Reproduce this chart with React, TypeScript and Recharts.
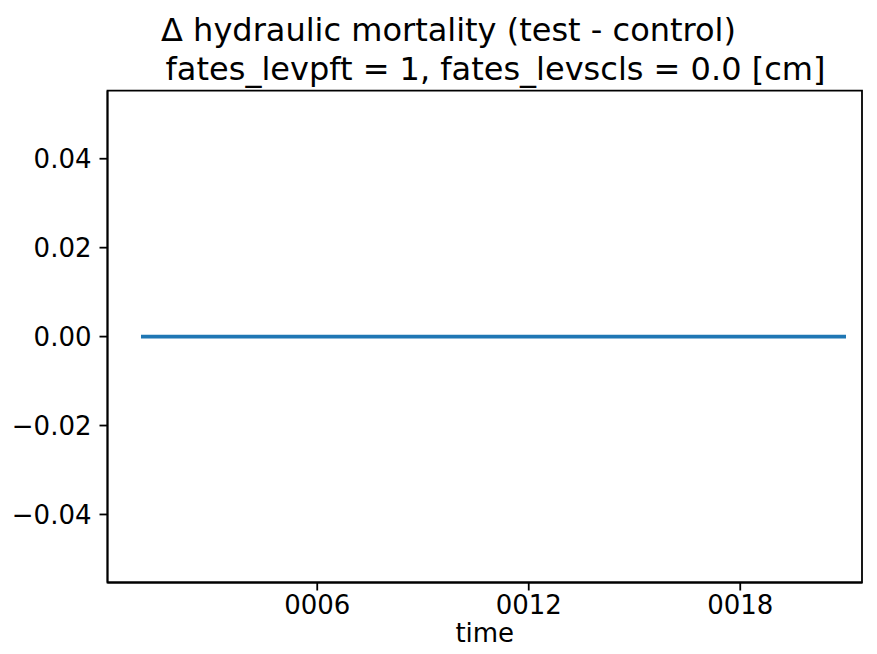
import { LineChart, Line, XAxis, YAxis, ReferenceArea } from "recharts";

// time in model years, delta in hydraulic mortality (test - control)
const years = [1, 2, 3, 4, 5, 6, 7, 8, 9, 10, 11, 12, 13, 14, 15, 16, 17, 18, 19, 20, 21];
const delta = [0, 0, 0, 0, 0, 0, 0, 0, 0, 0, 0, 0, 0, 0, 0, 0, 0, 0, 0, 0, 0];
const xTicks = [6, 12, 18];
const yTicks = [-0.04, -0.02, 0, 0.02, 0.04];
const titleLines = [
  "\u0394 hydraulic mortality (test - control)",
  "fates_levpft = 1, fates_levscls = 0.0 [cm]",
];

const data = years.map((t, i) => ({ t, v: delta[i] }));

const FONT = "'DejaVu Sans', sans-serif";
const tickStyle = { fontSize: 26, fill: "#000", fontFamily: FONT };
const xDomain = [0.05, 21.454];
const yDomain = [-0.0553, 0.0553];

const fmtYear = (v: number) => String(v).padStart(4, "0");
const fmtY = (v: number) => (v < 0 ? "\u2212" : "") + Math.abs(v).toFixed(2);

export default function App() {
  return (
    <div style={{ position: "absolute", left: 0, top: 0, width: 877, height: 654, background: "#fff" }}>
      <svg width={877} height={90} style={{ position: "absolute", left: 0, top: 0 }}>
        <text x={448.5} y={41} textAnchor="middle" fontSize={32} fontFamily={FONT} fill="#000">
          {titleLines[0]}
        </text>
        <text x={495.5} y={80} textAnchor="middle" fontSize={32} fontFamily={FONT} fill="#000">
          {titleLines[1]}
        </text>
      </svg>
      <LineChart
        width={877}
        height={654}
        data={data}
        margin={{ top: 90.7, right: 15, bottom: 0, left: 0 }}
      >
        <XAxis
          dataKey="t"
          type="number"
          domain={xDomain}
          allowDataOverflow
          ticks={xTicks}
          tickFormatter={fmtYear}
          tick={tickStyle}
          tickSize={8}
          tickMargin={5}
          height={71.5}
          axisLine={{ stroke: "#000", strokeWidth: 1.8 }}
          tickLine={{ stroke: "#000", strokeWidth: 1.8 }}
          label={{ value: "time", position: "insideBottom", offset: 12, fontSize: 26, fill: "#000", fontFamily: FONT }}
        />
        <YAxis
          type="number"
          domain={yDomain}
          allowDataOverflow
          ticks={yTicks}
          tickFormatter={fmtY}
          tick={tickStyle}
          tickSize={8}
          tickMargin={8}
          width={107.5}
          axisLine={{ stroke: "#000", strokeWidth: 1.8 }}
          tickLine={{ stroke: "#000", strokeWidth: 1.8 }}
        />
        <ReferenceArea
          x1={xDomain[0]}
          x2={xDomain[1]}
          y1={yDomain[0]}
          y2={yDomain[1]}
          fill="none"
          fillOpacity={0}
          stroke="#000"
          strokeWidth={1.8}
          strokeOpacity={1}
        />
        <Line
          dataKey="v"
          stroke="#1f77b4"
          strokeWidth={3.6}
          dot={false}
          isAnimationActive={false}
        />
      </LineChart>
    </div>
  );
}
